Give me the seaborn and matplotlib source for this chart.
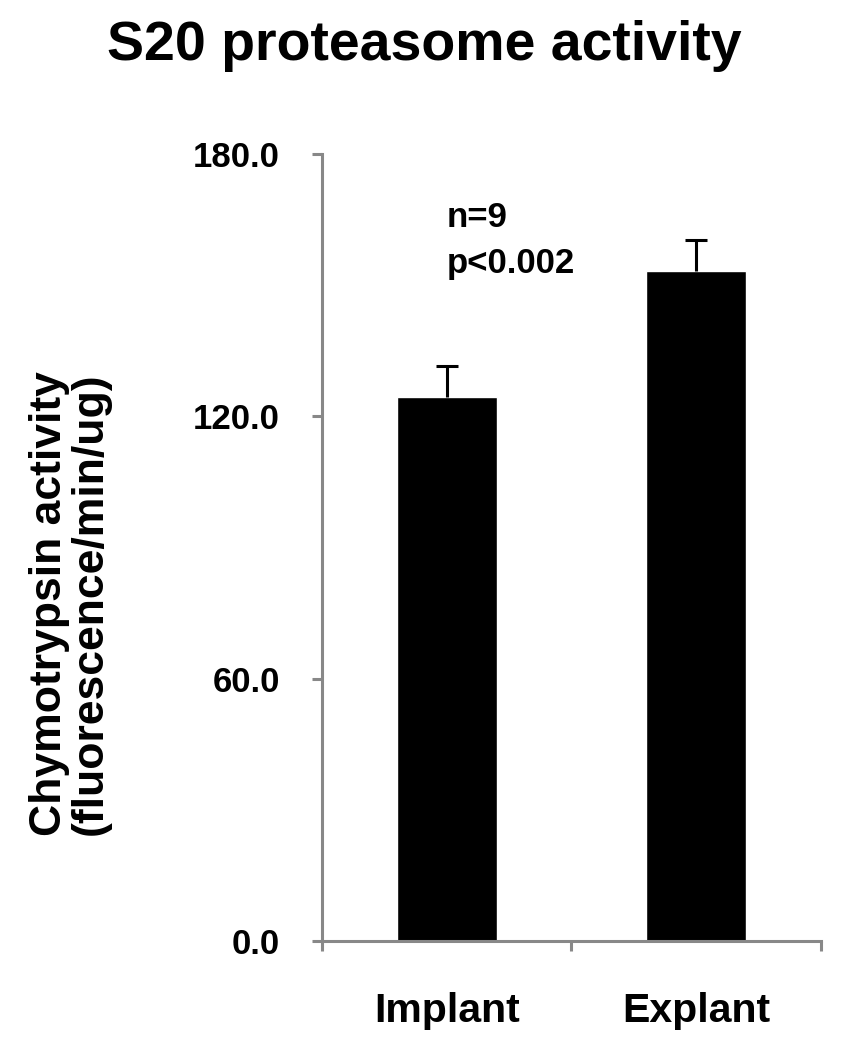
import seaborn as sns
import matplotlib.pyplot as plt
import pandas as pd

# values
groups = ['Implant', 'Explant']
activity = [124.5, 153.2]
sem = [7.1, 7.1]
y_ticks = [0, 60, 120, 180]

sns.set_style('white')
plt.rcParams['font.family'] = ['Liberation Sans', 'DejaVu Sans']
plt.rcParams['font.weight'] = 'bold'
plt.rcParams['text.color'] = 'black'
plt.rcParams['xtick.color'] = 'black'
plt.rcParams['ytick.color'] = 'black'

df = pd.DataFrame({'group': groups, 'activity': activity})

fig = plt.figure(figsize=(8.55, 10.5), dpi=100)
ax = fig.add_axes([0.3766, 0.1038, 0.5836, 0.7495])

sns.barplot(data=df, x='group', y='activity', color='black', width=0.4,
            errorbar=None, saturation=1, ax=ax)
# one-sided (upper) error bars
eb = ax.errorbar(range(len(groups)), activity, yerr=[[0] * len(sem), sem],
                 fmt='none', ecolor='black', elinewidth=2.2, capsize=7.6, capthick=2.2)
caps = eb.lines[1]
if len(caps) == 2:
    caps[0].set_visible(False)

ax.set_xlim(-0.5, 1.5)
ax.set_ylim(0, 180)
ax.set_yticks(y_ticks)
ax.set_yticklabels([f'{v:.1f}' for v in y_ticks], fontsize=25, fontweight='bold')
ax.set_xticks([-0.5, 0.5, 1.5], minor=False)
ax.set_xticklabels(['', '', ''])
ax.set_xticks([0, 1], minor=True)
ax.set_xticklabels(groups, minor=True, fontsize=29.5, fontweight='bold')
ax.tick_params(axis='x', which='minor', bottom=True, length=0, pad=37)
ax.tick_params(axis='x', which='major', bottom=True, direction='out', length=7.2,
               width=2.2, color='#888888')
ax.tick_params(axis='y', left=True, direction='out', length=7.2, width=2.2,
               color='#888888', pad=23)
ax.set_xlabel('')
ax.set_ylabel('')

for side in ['top', 'right']:
    ax.spines[side].set_visible(False)
for side in ['left', 'bottom']:
    ax.spines[side].set_color('#888888')
    ax.spines[side].set_linewidth(2.2)

ax.text(0, 163.3, 'n=9', fontsize=25, fontweight='bold', ha='left', va='baseline')
ax.text(0, 152.8, 'p<0.002', fontsize=25, fontweight='bold', ha='left', va='baseline')

fig.text(0.082, 0.425, 'Chymotrypsin activity\n(fluorescence/min/ug)', fontsize=32,
         fontweight='bold', rotation=90, ha='center', va='center',
         multialignment='center', linespacing=1.0)

fig.text(0.496, 0.943, 'S20 proteasome activity', fontsize=40, fontweight='bold',
         ha='center', va='baseline')

fig.savefig('out.png', dpi=100)
